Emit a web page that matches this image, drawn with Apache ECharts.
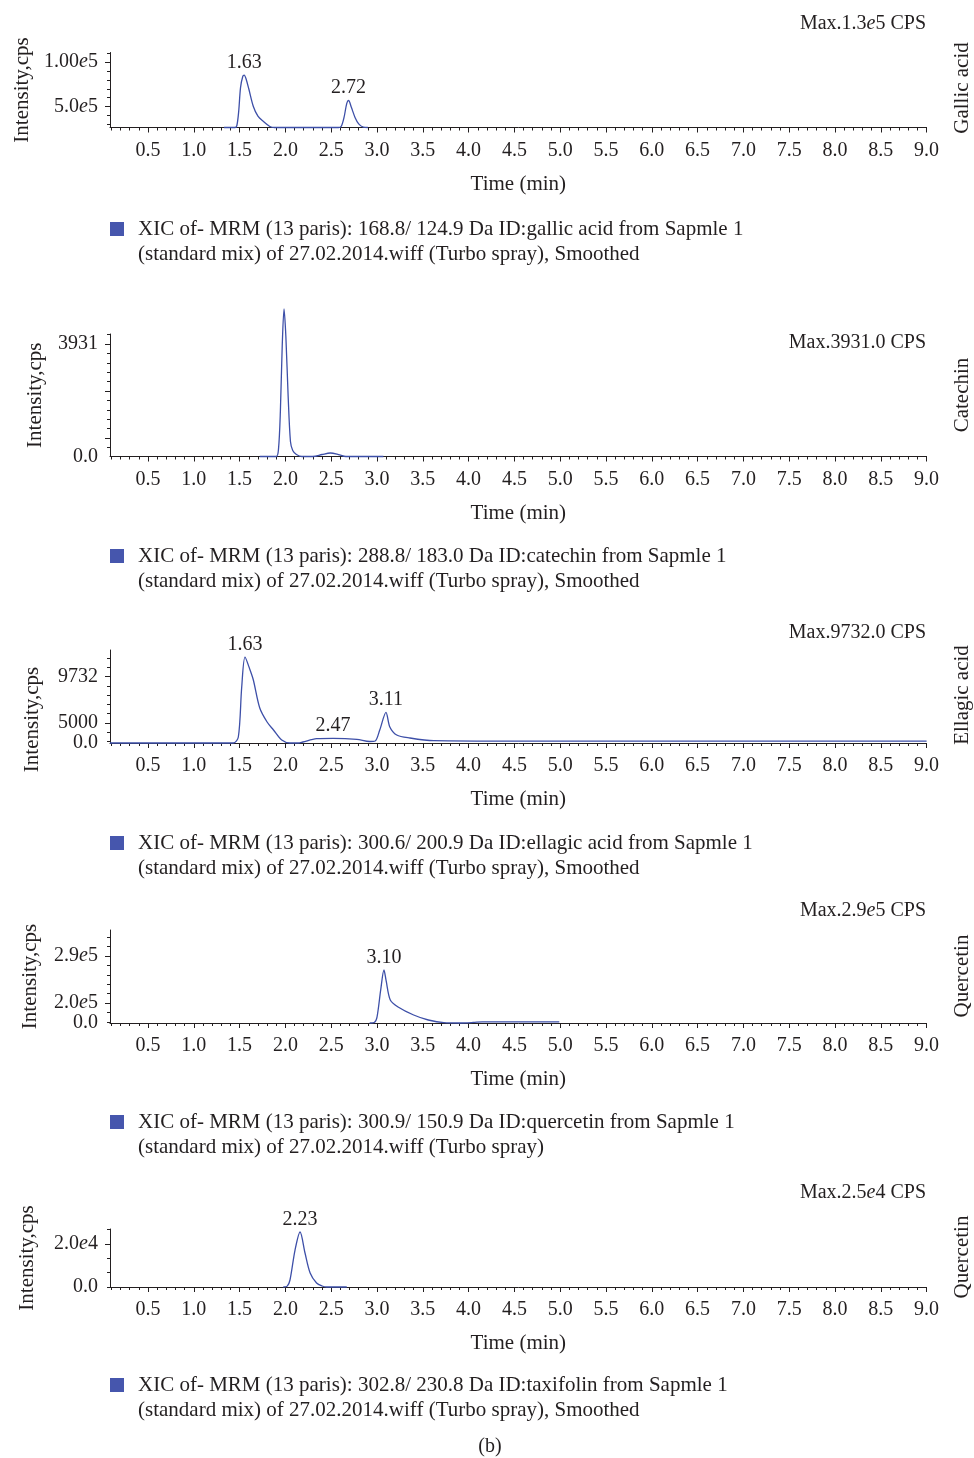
<!DOCTYPE html>
<html>
<head>
<meta charset="utf-8">
<title>XIC chromatograms</title>
<script src="https://cdn.jsdelivr.net/npm/echarts@6/dist/echarts.min.js"></script>
<style>
  html, body { margin: 0; padding: 0; background: #fff; }
  #chart { width: 974px; height: 1458px; }
</style>
</head>
<body>
<div id="chart"></div>
<script>
// retention time axis
const timeTicks = [0.5, 1.0, 1.5, 2.0, 2.5, 3.0, 3.5, 4.0, 4.5, 5.0, 5.5, 6.0, 6.5, 7.0, 7.5, 8.0, 8.5, 9.0];
const timeTickLabels = ["0.5", "1.0", "1.5", "2.0", "2.5", "3.0", "3.5", "4.0", "4.5", "5.0", "5.5", "6.0", "6.5", "7.0", "7.5", "8.0", "8.5", "9.0"];

// gallic acid
const gallicTime = [1.33, 1.45, 1.47, 1.49, 1.51, 1.535, 1.55, 1.57, 1.60, 1.65, 1.70, 1.76, 1.83, 1.88, 2.58, 2.61, 2.64, 2.67, 2.69, 2.72, 2.76, 2.80, 2.85, 2.90];
const gallicCps = [0, 0, 5000, 40000, 99000, 127000, 130000, 121000, 96000, 52000, 28000, 15000, 2500, 0, 0, 3000, 25000, 60000, 67000, 50000, 25000, 9000, 1000, 0];
const gallicPeakTimes = [1.55, 2.69];
const gallicPeakLabels = ["1.63", "2.72"];
const gallicYMajor = [51500, 163000];
const gallicYLabelValues = [51500, 163000];
const gallicYLabels = ["5.0e5", "1.00e5"];

// catechin
const catechinTime = [1.72, 1.90, 1.925, 1.945, 1.965, 1.985, 2.005, 2.03, 2.055, 2.08, 2.12, 2.18, 2.30, 2.40, 2.49, 2.58, 2.66, 3.07];
const catechinCps = [0, 0, 213, 1199, 2932, 3931, 3198, 1599, 400, 160, 53, 0, 0, 53, 93, 53, 0, 0];
const catechinPeakTimes = [1.985];
const catechinPeakLabels = ["2.09"];
const catechinYMajor = [493, 1745, 2998];
const catechinYLabelValues = [0, 2998];
const catechinYLabels = ["0.0", "3931"];

// ellagic acid
const ellagicTime = [0.085, 1.43, 1.486, 1.523, 1.559, 1.614, 1.65, 1.72, 1.80, 1.87, 1.96, 2.05, 2.14, 2.19, 2.34, 2.52, 2.78, 2.92, 2.98, 3.03, 3.098, 3.14, 3.215, 3.36, 3.62, 4.5, 9.0];
const ellagicCps = [0, 0, 679, 6339, 9732, 8264, 7132, 3962, 2377, 1472, 340, 0, 0, 113, 487, 532, 419, 170, 226, 1472, 3475, 1811, 906, 566, 260, 204, 204];
const ellagicPeakTimes = [1.559, 2.52, 3.098];
const ellagicPeakLabels = ["1.63", "2.47", "3.11"];
const ellagicYMajor = [2264, 7527];
const ellagicYLabelValues = [0, 2264, 7527];
const ellagicYLabels = ["0.0", "5000", "9732"];

// quercetin
const quercetinTime = [2.92, 2.97, 3.00, 3.04, 3.076, 3.10, 3.145, 3.23, 3.40, 3.56, 3.73, 3.90, 4.05, 4.15, 4.99];
const quercetinCps = [0, 3000, 32800, 180000, 290000, 230000, 125900, 87600, 43800, 16400, 1600, 0, 3000, 6600, 6600];
const quercetinPeakTimes = [3.076];
const quercetinPeakLabels = ["3.10"];
const quercetinYMajor = [109400, 366600];
const quercetinYLabelValues = [0, 109400, 366600];
const quercetinYLabels = ["0.0", "2.0e5", "2.9e5"];

// taxifolin
const taxifolinTime = [1.977, 2.02, 2.05, 2.105, 2.16, 2.214, 2.27, 2.34, 2.40, 2.45, 2.67];
const taxifolinCps = [0, 400, 3180, 16800, 25000, 15450, 6360, 1820, 455, 0, 0];
const taxifolinPeakTimes = [2.16];
const taxifolinPeakLabels = ["2.23"];
const taxifolinYMajor = [19545];
const taxifolinYLabelValues = [0, 19545];
const taxifolinYLabels = ["0.0", "2.0e4"];

const legendLine2 = "(standard mix) of 27.02.2014.wiff (Turbo spray), Smoothed";

const FONT = '"Liberation Serif", "DejaVu Serif", serif';
const INK = "#231f20";
const LINE = "#3d4fa8";
const SQUARE = "#4656ad";
const X_MIN = 0.085;

// layout for each panel (pixels)
const panels = [
  {
    name: "gallic acid", time: gallicTime, cps: gallicCps, peakT: gallicPeakTimes, peakL: gallicPeakLabels,
    yMajor: gallicYMajor, yLabelVals: gallicYLabelValues, yLabels: gallicYLabels, minor: [51500, 163000, 5],
    yMax: 186000, top: 52.5, base: 127.5, nameGap: 76, namePad: 0,
    maxText: "Max.1.3e5 CPS", maxY: 22, compound: "Gallic acid", compoundY: 88, legendY: 229,
    legend: ["XIC of- MRM (13 paris): 168.8/ 124.9 Da ID:gallic acid from Sapmle 1", legendLine2],
  },
  {
    name: "catechin", time: catechinTime, cps: catechinCps, peakT: catechinPeakTimes, peakL: catechinPeakLabels,
    yMajor: catechinYMajor, yLabelVals: catechinYLabelValues, yLabels: catechinYLabels, minor: [493, 1745, 5],
    yMax: 3265, top: 334, base: 456.5, nameGap: 64, namePad: 0,
    maxText: "Max.3931.0 CPS", maxY: 341, compound: "Catechin", compoundY: 395, legendY: 556,
    legend: ["XIC of- MRM (13 paris): 288.8/ 183.0 Da ID:catechin from Sapmle 1", legendLine2],
  },
  {
    name: "ellagic acid", time: ellagicTime, cps: ellagicCps, peakT: ellagicPeakTimes, peakL: ellagicPeakLabels,
    yMajor: ellagicYMajor, yLabelVals: ellagicYLabelValues, yLabels: ellagicYLabels, minor: [2264, 7527, 5],
    yMax: 10528, top: 650, base: 743, nameGap: 67, namePad: 46,
    maxText: "Max.9732.0 CPS", maxY: 631, compound: "Ellagic acid", compoundY: 695, legendY: 843,
    legend: ["XIC of- MRM (13 paris): 300.6/ 200.9 Da ID:ellagic acid from Sapmle 1", legendLine2],
  },
  {
    name: "quercetin", time: quercetinTime, cps: quercetinCps, peakT: quercetinPeakTimes, peakL: quercetinPeakLabels,
    yMajor: quercetinYMajor, yLabelVals: quercetinYLabelValues, yLabels: quercetinYLabels, minor: [109400, 366600, 5],
    yMax: 508900, top: 930, base: 1023, nameGap: 69, namePad: 0,
    maxText: "Max.2.9e5 CPS", maxY: 909, compound: "Quercetin", compoundY: 976, legendY: 1122,
    legend: ["XIC of- MRM (13 paris): 300.9/ 150.9 Da ID:quercetin from Sapmle 1", "(standard mix) of 27.02.2014.wiff (Turbo spray)"],
  },
  {
    name: "taxifolin", time: taxifolinTime, cps: taxifolinCps, peakT: taxifolinPeakTimes, peakL: taxifolinPeakLabels,
    yMajor: taxifolinYMajor, yLabelVals: taxifolinYLabelValues, yLabels: taxifolinYLabels, minor: [0, 19545, 3],
    yMax: 26360, top: 1229, base: 1287, nameGap: 72, namePad: 0,
    maxText: "Max.2.5e4 CPS", maxY: 1191, compound: "Quercetin", compoundY: 1257, legendY: 1385,
    legend: ["XIC of- MRM (13 paris): 302.8/ 230.8 Da ID:taxifolin from Sapmle 1", legendLine2],
  },
];

// italic "e" in 1.3e5 etc.
const eText = (s) => s.replace(/(\d)e(\d)/, "$1{i|e}$2");
const lookup = (vals, labels, v) => {
  const i = vals.findIndex((a) => Math.abs(a - v) < 1e-6 * Math.max(1, Math.abs(a)));
  return i < 0 ? "" : labels[i];
};
const minorTicks = (a, b, n, max) => {
  const step = (b - a) / n;
  const out = [];
  for (let k = -20; k <= 40; k++) {
    const v = a + k * step;
    if (v >= 0 && v <= max) out.push(v);
  }
  return out;
};
const minorTimeTicks = [];
for (let i = 1; i <= 90; i++) if (i % 5 !== 0) minorTimeTicks.push(i / 10);

const textBase = { fontFamily: FONT, fontSize: 20, color: INK };
const textBig = { fontFamily: FONT, fontSize: 21, color: INK };
const rich = { i: { fontFamily: FONT, fontSize: 20, color: INK, fontStyle: "italic" } };

const grid = [], xAxis = [], yAxis = [], series = [], title = [], legend = [], graphic = [];

panels.forEach((p, k) => {
  grid.push({ left: 110, right: 47.4, top: p.top, height: p.base - p.top });

  xAxis.push({
    gridIndex: k, type: "value", position: "bottom", min: X_MIN, max: 9,
    name: "Time (min)", nameLocation: "middle", nameGap: 46, nameTextStyle: textBig,
    axisLine: { lineStyle: { color: INK, width: 1 } },
    axisTick: { customValues: timeTicks, length: 5, lineStyle: { color: INK } },
    axisLabel: { customValues: timeTicks, margin: 13, ...textBase, formatter: (v) => lookup(timeTicks, timeTickLabels, v) },
    splitLine: { show: false },
  });
  xAxis.push({
    gridIndex: k, type: "value", position: "bottom", min: X_MIN, max: 9,
    axisLine: { show: false },
    axisTick: { customValues: minorTimeTicks, length: 3, lineStyle: { color: INK } },
    axisLabel: { show: false }, splitLine: { show: false },
  });

  yAxis.push({
    gridIndex: k, type: "value", position: "left", min: 0, max: p.yMax,
    name: "Intensity,cps", nameLocation: "middle", nameRotate: 90, nameGap: p.nameGap,
    nameTextStyle: { ...textBig, padding: [0, p.namePad, 0, 0] },
    axisLine: { show: true, lineStyle: { color: INK, width: 1 } },
    axisTick: { customValues: p.yMajor, length: 5, lineStyle: { color: INK } },
    axisLabel: { customValues: p.yLabelVals, margin: 12, ...textBase, rich, formatter: (v) => eText(lookup(p.yLabelVals, p.yLabels, v)) },
    splitLine: { show: false },
  });
  yAxis.push({
    gridIndex: k, type: "value", position: "left", min: 0, max: p.yMax,
    axisLine: { show: false },
    axisTick: { customValues: minorTicks(p.minor[0], p.minor[1], p.minor[2], p.yMax), length: 3, lineStyle: { color: INK } },
    axisLabel: { show: false }, splitLine: { show: false },
  });

  series.push({
    name: p.name, type: "line", xAxisIndex: 2 * k, yAxisIndex: 2 * k,
    data: p.time.map((t, i) => [t, p.cps[i]]),
    showSymbol: false, symbol: "none", smooth: 0.3, clip: false,
    lineStyle: { color: LINE, width: 1.3 }, itemStyle: { color: SQUARE },
    markPoint: {
      symbol: "circle", symbolSize: 1, itemStyle: { color: "transparent" },
      label: { show: true, position: "top", distance: 2, formatter: "{b}", ...textBase },
      data: p.peakT.map((t, j) => ({ name: p.peakL[j], coord: [t, p.cps[p.time.indexOf(t)]] })),
    },
  });

  title.push({
    text: eText(p.maxText), right: 48, top: p.maxY - 8, padding: 0,
    textStyle: { ...textBase, fontWeight: "normal", rich },
  });

  // empty first line keeps the square level with the first text line
  legend.push({
    data: [p.name], left: 110, top: p.legendY - 37.5, padding: 0, selectedMode: false,
    icon: "rect", itemWidth: 14, itemHeight: 14, itemStyle: { color: SQUARE },
    formatter: () => "\n" + p.legend.join("\n"),
    textStyle: { ...textBig, lineHeight: 25, padding: [0, 0, 0, 9] },
  });

  graphic.push({
    type: "text", x: 962, y: p.compoundY, rotation: Math.PI / 2,
    style: { text: p.compound, fontFamily: FONT, fontSize: 21, fill: INK, align: "center", verticalAlign: "middle" },
  });
});

graphic.push({
  type: "text", x: 490, y: 1447,
  style: { text: "(b)", fontFamily: FONT, fontSize: 20, fill: INK, align: "center", verticalAlign: "middle" },
});

const chart = echarts.init(document.getElementById("chart"));
chart.setOption({
  animation: false,
  backgroundColor: "#fff",
  grid, xAxis, yAxis, series, title, legend, graphic,
});
</script>
</body>
</html>
